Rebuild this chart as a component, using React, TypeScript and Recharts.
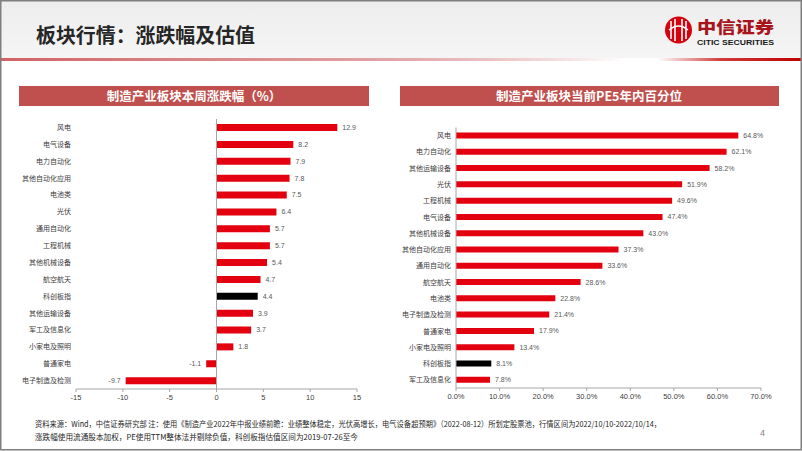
import React from 'react';
import { BarChart, Bar, XAxis, YAxis, LabelList, ReferenceLine, Cell } from 'recharts';

const leftCategories = ['风电', '电气设备', '电力自动化', '其他自动化应用', '电池类', '光伏', '通用自动化', '工程机械', '其他机械设备', '航空航天', '科创板指', '其他运输设备', '军工及信息化', '小家电及照明', '普通家电', '电子制造及检测'];
const leftValues = [12.9, 8.2, 7.9, 7.8, 7.5, 6.4, 5.7, 5.7, 5.4, 4.7, 4.4, 3.9, 3.7, 1.8, -1.1, -9.7];
const leftTicks = [-15, -10, -5, 0, 5, 10, 15];

const rightCategories = ['风电', '电力自动化', '其他运输设备', '光伏', '工程机械', '电气设备', '其他机械设备', '其他自动化应用', '通用自动化', '航空航天', '电池类', '电子制造及检测', '普通家电', '小家电及照明', '科创板指', '军工及信息化'];
const rightValues = [64.8, 62.1, 58.2, 51.9, 49.6, 47.4, 43.0, 37.3, 33.6, 28.6, 22.8, 21.4, 17.9, 13.4, 8.1, 7.8];
const rightTicks = [0, 10, 20, 30, 40, 50, 60, 70];

const highlight = '科创板指';

const pageTitle = '板块行情：涨跌幅及估值';
const leftTitle = '制造产业板块本周涨跌幅（%）';
const rightTitle = '制造产业板块当前PE5年内百分位';
const footer1 = '资料来源：Wind，中信证券研究部 注：使用《制造产业2022年中报业绩前瞻：业绩整体稳定，光伏高增长，电气设备超预期》（2022-08-12）所划定股票池，行情区间为2022/10/10-2022/10/14，';
const footer2 = '涨跌幅使用流通股本加权，PE使用TTM整体法并剔除负值，科创板指估值区间为2019-07-26至今';

const leftData = leftCategories.map((name, i) => ({ name, value: leftValues[i] }));
const rightData = rightCategories.map((name, i) => ({ name, value: rightValues[i] }));

const CJK = '"Noto Sans CJK SC", "Noto Sans", sans-serif';
const LAT = '"Liberation Sans", Arial, sans-serif';
const RED = '#E3000F';

export default function App() {
  return (
    <div style={{ position: 'absolute', left: 0, top: 0, width: 802, height: 451, background: '#fff', overflow: 'hidden' }}>
      <svg width={802} height={451} style={{ position: 'absolute', left: 0, top: 0 }}>
        <defs>
          <linearGradient id="hdr" x1="0" y1="0" x2="0" y2="1">
            <stop offset="0" stopColor="#EDEDED" />
            <stop offset="1" stopColor="#F5F5F5" />
          </linearGradient>
          <linearGradient id="redline" x1="0" y1="0" x2="1" y2="0">
            <stop offset="0" stopColor="#C9474A" stopOpacity={0.85} />
            <stop offset="0.45" stopColor="#D27577" stopOpacity={0.7} />
            <stop offset="0.78" stopColor="#FFFFFF" stopOpacity={1} />
            <stop offset="0.82" stopColor="#FFFFFF" stopOpacity={1} />
            <stop offset="0.9" stopColor="#D03A3A" />
            <stop offset="1" stopColor="#C00000" />
          </linearGradient>
        </defs>
        <rect x={0} y={0} width={802} height={58} fill="url(#hdr)" />
        <rect x={0} y={58} width={802} height={3} fill="url(#redline)" />
        <text x={36} y={43} fontFamily={CJK} fontWeight={700} fontSize={20} fill="#262626" textLength={219} lengthAdjust="spacingAndGlyphs">{pageTitle}</text>
        {/* logo */}
        <circle cx={678.5} cy={30} r={13.5} fill="#D7000F" />
        <path d="M671 21 L671 39 M675 19 L675 41 M682 19 L682 41 M686 21 L686 39" stroke="#fff" strokeWidth={1.6} />
        <path d="M669 30 Q678.5 22 688 30" stroke="#fff" strokeWidth={1.4} fill="none" />
        <text x={697} y={33} fontFamily={CJK} fontWeight={900} fontSize={16} fill="#A8141B" textLength={77} lengthAdjust="spacingAndGlyphs">中信证券</text>
        <text x={697} y={45} fontFamily={LAT} fontWeight={700} fontSize={7} fill="#1a1a1a" textLength={77} lengthAdjust="spacingAndGlyphs">CITIC SECURITIES</text>
        {/* panel title bars */}
        <rect x={19} y={86} width={350} height={20} fill="#C0504D" />
        <text x={194} y={100.5} textAnchor="middle" fontFamily={CJK} fontWeight={700} fontSize={12.5} fill="#fff">{leftTitle}</text>
        <rect x={400} y={86} width={379} height={20} fill="#C0504D" />
        <text x={589} y={100.5} textAnchor="middle" fontFamily={CJK} fontWeight={700} fontSize={12.5} fill="#fff">{rightTitle}</text>
        {/* footer */}
        <text x={35} y={427} fontFamily={CJK} fontSize={8} fill="#262626" textLength={626} lengthAdjust="spacingAndGlyphs">{footer1}</text>
        <text x={35} y={440} fontFamily={CJK} fontSize={8} fill="#262626" textLength={323} lengthAdjust="spacingAndGlyphs">{footer2}</text>
        <text x={760} y={436} fontFamily={LAT} fontSize={9} fill="#7f7f7f">4</text>
        {/* frame */}
        <rect x={0.75} y={0.75} width={800.5} height={449} fill="none" stroke="#7F7F7F" strokeWidth={1.5} />
      </svg>

      <div style={{ position: 'absolute', left: 0, top: 0 }}>
        <BarChart width={400} height={420} data={leftData} layout="vertical" margin={{ top: 119, right: 43, left: 0, bottom: 11 }}>
          <XAxis type="number" domain={[-15, 15]} ticks={leftTicks} height={20} tickSize={3} tickMargin={3}
            axisLine={{ stroke: '#A6A6A6' }} tickLine={{ stroke: '#A6A6A6' }}
            tick={{ fontSize: 7.5, fontFamily: LAT, fill: '#404040' }} />
          <YAxis type="category" dataKey="name" width={76} axisLine={false} tickLine={false} tickSize={0} tickMargin={5}
            interval={0} tick={{ fontSize: 7, fontFamily: CJK, fill: '#404040' }} />
          <ReferenceLine x={0} stroke="#A6A6A6" />
          <Bar dataKey="value" barSize={7} isAnimationActive={false}>
            {leftData.map((d) => (
              <Cell key={d.name} fill={d.name === highlight ? '#000000' : RED} />
            ))}
            <LabelList dataKey="value" position="right" offset={5} formatter={(v: any) => Number(v).toFixed(1)}
              style={{ fontSize: 7, fontFamily: LAT, fill: '#595959' }} />
          </Bar>
        </BarChart>
      </div>

      <div style={{ position: 'absolute', left: 400, top: 0 }}>
        <BarChart width={402} height={420} data={rightData} layout="vertical" margin={{ top: 127.5, right: 41, left: 0, bottom: 12 }}>
          <XAxis type="number" domain={[0, 70]} ticks={rightTicks} height={20} tickSize={3} tickMargin={3}
            axisLine={{ stroke: '#A6A6A6' }} tickLine={{ stroke: '#A6A6A6' }}
            tickFormatter={(v: number) => v.toFixed(1) + '%'}
            tick={{ fontSize: 7.5, fontFamily: LAT, fill: '#404040' }} />
          <YAxis type="category" dataKey="name" width={56} axisLine={{ stroke: '#A6A6A6' }} tickLine={false} tickSize={0} tickMargin={5}
            interval={0} tick={{ fontSize: 7, fontFamily: CJK, fill: '#404040' }} />
          <Bar dataKey="value" barSize={6} isAnimationActive={false}>
            {rightData.map((d) => (
              <Cell key={d.name} fill={d.name === highlight ? '#000000' : RED} />
            ))}
            <LabelList dataKey="value" position="right" offset={5} formatter={(v: any) => Number(v).toFixed(1) + '%'}
              style={{ fontSize: 7, fontFamily: LAT, fill: '#595959' }} />
          </Bar>
        </BarChart>
      </div>
    </div>
  );
}
